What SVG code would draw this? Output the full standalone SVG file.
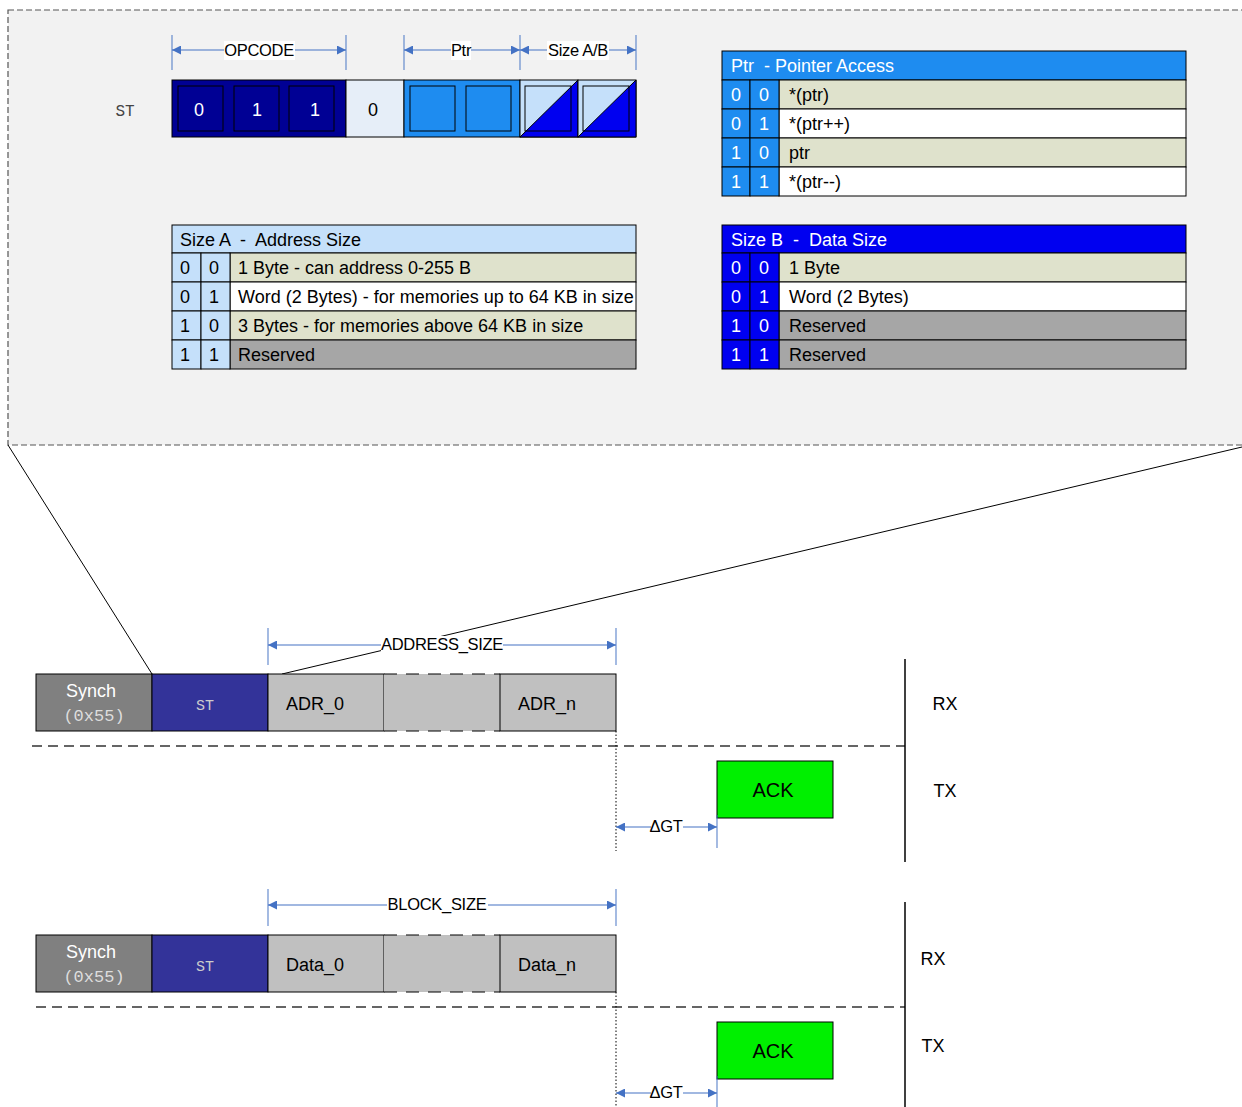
<svg xmlns="http://www.w3.org/2000/svg" width="1242" height="1107" viewBox="0 0 1242 1107">
<defs>
<marker id="arr" viewBox="0 0 10 10" refX="10" refY="5" markerWidth="9" markerHeight="9" markerUnits="userSpaceOnUse" orient="auto-start-reverse">
<path d="M0,0 L10,5 L0,10 z" fill="#4472c4"/>
</marker>
<style>
text{font-family:"Liberation Sans",Arial,sans-serif;}
.t{font-size:18px;fill:#000;}
.tw{font-size:18px;fill:#fff;}
.c{text-anchor:middle;}
.mono{font-family:"Liberation Mono","Courier New",monospace;}
.dim{stroke:#4472c4;stroke-width:1.2;fill:none;}
.dl{font-size:16.5px;text-anchor:middle;fill:#000;letter-spacing:-0.3px;}
.cell{stroke:#000;stroke-width:1;}
.pre{white-space:pre;}
</style>
</defs>

<!-- zoom panel -->
<g id="panel">
<rect x="8" y="10" width="1250" height="435" fill="#f2f2f2" stroke="#555" stroke-width="1.2" stroke-dasharray="6,3"/>
</g>

<!-- zoom lines -->
<g id="connectors" stroke="#000" stroke-width="1" fill="none">
<line x1="8" y1="445" x2="152" y2="674"/>
<line x1="1242" y1="447" x2="282" y2="674"/>
</g>

<!-- register ST -->
<g id="register">
<text x="125" y="116" class="mono" font-size="16" fill="#444" text-anchor="middle">ST</text>
<rect x="172" y="80" width="174" height="57" fill="#000094" class="cell"/>
<rect x="178" y="86" width="45" height="45" fill="#000094" class="cell"/>
<rect x="234" y="86" width="45" height="45" fill="#000094" class="cell"/>
<rect x="289" y="86" width="45" height="45" fill="#000094" class="cell"/>
<text x="199" y="116" class="tw c">0</text>
<text x="257" y="116" class="tw c">1</text>
<text x="315" y="116" class="tw c">1</text>
<rect x="346" y="80" width="58" height="57" fill="#e6eef8" class="cell"/>
<text x="373" y="116" class="t c">0</text>
<rect x="404" y="80" width="116" height="57" fill="#1e8cf0" class="cell"/>
<rect x="410" y="86" width="45" height="45" fill="#1e8cf0" class="cell"/>
<rect x="466" y="86" width="45" height="45" fill="#1e8cf0" class="cell"/>
<rect x="520" y="80" width="58" height="57" fill="#c5e0fa" class="cell"/>
<polygon points="578,80 578,137 520,137" fill="#0000f0" stroke="#000" stroke-width="1"/>
<rect x="525" y="86" width="46" height="45" fill="none" class="cell"/>
<rect x="578" y="80" width="58" height="57" fill="#c5e0fa" class="cell"/>
<polygon points="636,80 636,137 578,137" fill="#0000f0" stroke="#000" stroke-width="1"/>
<rect x="583" y="86" width="46" height="45" fill="none" class="cell"/>
</g>

<!-- register dimensions -->
<g id="reg-dims">
<g stroke="#4472c4" stroke-width="1.2" opacity="0.8">
<line x1="172" y1="35" x2="172" y2="70"/>
<line x1="346" y1="35" x2="346" y2="70"/>
<line x1="404" y1="35" x2="404" y2="70"/>
<line x1="520" y1="35" x2="520" y2="70"/>
<line x1="636" y1="35" x2="636" y2="70"/>
</g>
<line x1="172" y1="50" x2="346" y2="50" class="dim" marker-start="url(#arr)" marker-end="url(#arr)"/>
<line x1="404" y1="50" x2="520" y2="50" class="dim" marker-start="url(#arr)" marker-end="url(#arr)"/>
<line x1="520" y1="50" x2="636" y2="50" class="dim" marker-start="url(#arr)" marker-end="url(#arr)"/>
<rect x="224" y="41" width="71" height="19" fill="#fff"/>
<rect x="451" y="41" width="20" height="19" fill="#fff"/>
<rect x="547" y="41" width="62" height="19" fill="#fff"/>
<text x="259" y="56" class="dl">OPCODE</text>
<text x="461" y="56" class="dl">Ptr</text>
<text x="578" y="56" class="dl">Size A/B</text>
</g>

<!-- Ptr table -->
<g id="ptr-table">
<rect x="722" y="51" width="464" height="29" fill="#1e8cf0" class="cell"/>
<text x="731" y="72" class="tw pre">Ptr  - Pointer Access</text>
<rect x="779" y="80" width="407" height="29" fill="#dfe2cc" class="cell"/>
<rect x="779" y="109" width="407" height="29" fill="#fff" class="cell"/>
<rect x="779" y="138" width="407" height="29" fill="#dfe2cc" class="cell"/>
<rect x="779" y="167" width="407" height="29" fill="#fff" class="cell"/>
<g fill="#1e8cf0" class="cell">
<rect x="722" y="80" width="28" height="29"/><rect x="750" y="80" width="29" height="29"/>
<rect x="722" y="109" width="28" height="29"/><rect x="750" y="109" width="29" height="29"/>
<rect x="722" y="138" width="28" height="29"/><rect x="750" y="138" width="29" height="29"/>
<rect x="722" y="167" width="28" height="29"/><rect x="750" y="167" width="29" height="29"/>
</g>
<text x="736" y="101" class="tw c">0</text><text x="764" y="101" class="tw c">0</text>
<text x="736" y="130" class="tw c">0</text><text x="764" y="130" class="tw c">1</text>
<text x="736" y="159" class="tw c">1</text><text x="764" y="159" class="tw c">0</text>
<text x="736" y="188" class="tw c">1</text><text x="764" y="188" class="tw c">1</text>
<text x="789" y="101" class="t">*(ptr)</text>
<text x="789" y="130" class="t">*(ptr++)</text>
<text x="789" y="159" class="t">ptr</text>
<text x="789" y="188" class="t">*(ptr--)</text>
</g>

<!-- Size A table -->
<g id="sizea-table">
<rect x="172" y="225" width="464" height="28" fill="#c5e0fa" class="cell"/>
<text x="180" y="246" class="t pre">Size A  -  Address Size</text>
<rect x="230" y="253" width="406" height="29" fill="#dfe2cc" class="cell"/>
<rect x="230" y="282" width="406" height="29" fill="#fff" class="cell"/>
<rect x="230" y="311" width="406" height="29" fill="#dfe2cc" class="cell"/>
<rect x="230" y="340" width="406" height="29" fill="#a6a6a6" class="cell"/>
<g fill="#c5e0fa" class="cell">
<rect x="172" y="253" width="29" height="29"/><rect x="201" y="253" width="29" height="29"/>
<rect x="172" y="282" width="29" height="29"/><rect x="201" y="282" width="29" height="29"/>
<rect x="172" y="311" width="29" height="29"/><rect x="201" y="311" width="29" height="29"/>
<rect x="172" y="340" width="29" height="29"/><rect x="201" y="340" width="29" height="29"/>
</g>
<text x="185" y="274" class="t c">0</text><text x="214" y="274" class="t c">0</text>
<text x="185" y="303" class="t c">0</text><text x="214" y="303" class="t c">1</text>
<text x="185" y="332" class="t c">1</text><text x="214" y="332" class="t c">0</text>
<text x="185" y="361" class="t c">1</text><text x="214" y="361" class="t c">1</text>
<text x="238" y="274" class="t">1 Byte - can address 0-255 B</text>
<text x="238" y="303" class="t">Word (2 Bytes) - for memories up to 64 KB in size</text>
<text x="238" y="332" class="t">3 Bytes - for memories above 64 KB in size</text>
<text x="238" y="361" class="t">Reserved</text>
</g>

<!-- Size B table -->
<g id="sizeb-table">
<rect x="722" y="225" width="464" height="28" fill="#0000f0" class="cell"/>
<text x="731" y="246" class="tw pre">Size B  -  Data Size</text>
<rect x="779" y="253" width="407" height="29" fill="#dfe2cc" class="cell"/>
<rect x="779" y="282" width="407" height="29" fill="#fff" class="cell"/>
<rect x="779" y="311" width="407" height="29" fill="#a6a6a6" class="cell"/>
<rect x="779" y="340" width="407" height="29" fill="#a6a6a6" class="cell"/>
<g fill="#0000f0" class="cell">
<rect x="722" y="253" width="28" height="29"/><rect x="750" y="253" width="29" height="29"/>
<rect x="722" y="282" width="28" height="29"/><rect x="750" y="282" width="29" height="29"/>
<rect x="722" y="311" width="28" height="29"/><rect x="750" y="311" width="29" height="29"/>
<rect x="722" y="340" width="28" height="29"/><rect x="750" y="340" width="29" height="29"/>
</g>
<text x="736" y="274" class="tw c">0</text><text x="764" y="274" class="tw c">0</text>
<text x="736" y="303" class="tw c">0</text><text x="764" y="303" class="tw c">1</text>
<text x="736" y="332" class="tw c">1</text><text x="764" y="332" class="tw c">0</text>
<text x="736" y="361" class="tw c">1</text><text x="764" y="361" class="tw c">1</text>
<text x="789" y="274" class="t">1 Byte</text>
<text x="789" y="303" class="t">Word (2 Bytes)</text>
<text x="789" y="332" class="t">Reserved</text>
<text x="789" y="361" class="t">Reserved</text>
</g>

<!-- Frame 1: address -->
<g id="frame1">
<rect x="36" y="674" width="116" height="57" fill="#808080" class="cell"/>
<text x="91" y="697" font-size="18" fill="#fff" text-anchor="middle">Synch</text>
<text x="94" y="721" class="mono" font-size="17" fill="#ddd" text-anchor="middle">(0x55)</text>
<rect x="152" y="674" width="116" height="57" fill="#333399" class="cell"/>
<text x="205" y="710" class="mono" font-size="15" fill="#ccc" text-anchor="middle">ST</text>
<rect x="268" y="674" width="116" height="57" fill="#c0c0c0" class="cell"/>
<text x="315" y="710" class="t c">ADR_0</text>
<rect x="384" y="674" width="116" height="57" fill="#c0c0c0"/>
<line x1="384" y1="674" x2="500" y2="674" stroke="#000" stroke-width="1.2" stroke-dasharray="13,9"/>
<line x1="384" y1="731" x2="500" y2="731" stroke="#000" stroke-width="1.2" stroke-dasharray="13,9"/>
<rect x="500" y="674" width="116" height="57" fill="#c0c0c0" class="cell"/>
<text x="547" y="710" class="t c">ADR_n</text>
</g>
<g id="frame1-dims">
<g stroke="#4472c4" stroke-width="1.2" opacity="0.8">
<line x1="268" y1="628" x2="268" y2="665"/>
<line x1="616" y1="628" x2="616" y2="665"/>
</g>
<line x1="268" y1="645" x2="616" y2="645" class="dim" marker-start="url(#arr)" marker-end="url(#arr)"/>
<rect x="381" y="636" width="122" height="19" fill="#fff"/>
<text x="442" y="650" class="dl">ADDRESS_SIZE</text>
</g>
<g id="timeline1">
<line x1="32" y1="746" x2="905" y2="746" stroke="#333" stroke-width="1.5" stroke-dasharray="10,6"/>
<line x1="905" y1="659" x2="905" y2="862" stroke="#000" stroke-width="1.5"/>
<line x1="616" y1="731" x2="616" y2="851" stroke="#000" stroke-width="1" stroke-dasharray="1.5,2"/>
<text x="945" y="710" class="t c">RX</text>
<text x="945" y="797" class="t c">TX</text>
</g>
<g id="ack1">
<rect x="717" y="761" width="116" height="57" fill="#00f000" class="cell"/>
<text x="773" y="797" font-size="20" text-anchor="middle">ACK</text>
</g>
<g id="gt1">
<line x1="717" y1="815" x2="717" y2="848" stroke="#4472c4" stroke-width="1.2" opacity="0.8"/>
<line x1="616" y1="827" x2="717" y2="827" class="dim" marker-start="url(#arr)" marker-end="url(#arr)"/>
<rect x="651" y="818" width="32" height="18" fill="#fff"/>
<text x="666" y="832" class="dl">ΔGT</text>
</g>

<!-- Frame 2: data -->
<g id="frame2">
<rect x="36" y="935" width="116" height="57" fill="#808080" class="cell"/>
<text x="91" y="958" font-size="18" fill="#fff" text-anchor="middle">Synch</text>
<text x="94" y="982" class="mono" font-size="17" fill="#ddd" text-anchor="middle">(0x55)</text>
<rect x="152" y="935" width="116" height="57" fill="#333399" class="cell"/>
<text x="205" y="971" class="mono" font-size="15" fill="#ccc" text-anchor="middle">ST</text>
<rect x="268" y="935" width="116" height="57" fill="#c0c0c0" class="cell"/>
<text x="315" y="971" class="t c">Data_0</text>
<rect x="384" y="935" width="116" height="57" fill="#c0c0c0"/>
<line x1="384" y1="935" x2="500" y2="935" stroke="#000" stroke-width="1.2" stroke-dasharray="13,9"/>
<line x1="384" y1="992" x2="500" y2="992" stroke="#000" stroke-width="1.2" stroke-dasharray="13,9"/>
<rect x="500" y="935" width="116" height="57" fill="#c0c0c0" class="cell"/>
<text x="547" y="971" class="t c">Data_n</text>
</g>
<g id="frame2-dims">
<g stroke="#4472c4" stroke-width="1.2" opacity="0.8">
<line x1="268" y1="889" x2="268" y2="926"/>
<line x1="616" y1="889" x2="616" y2="926"/>
</g>
<line x1="268" y1="905" x2="616" y2="905" class="dim" marker-start="url(#arr)" marker-end="url(#arr)"/>
<rect x="387" y="896" width="101" height="19" fill="#fff"/>
<text x="437" y="910" class="dl">BLOCK_SIZE</text>
</g>
<g id="timeline2">
<line x1="36" y1="1007" x2="905" y2="1007" stroke="#333" stroke-width="1.5" stroke-dasharray="10,6"/>
<line x1="905" y1="902" x2="905" y2="1107" stroke="#000" stroke-width="1.5"/>
<line x1="616" y1="992" x2="616" y2="1107" stroke="#000" stroke-width="1" stroke-dasharray="1.5,2"/>
<text x="933" y="965" class="t c">RX</text>
<text x="933" y="1052" class="t c">TX</text>
</g>
<g id="ack2">
<rect x="717" y="1022" width="116" height="57" fill="#00f000" class="cell"/>
<text x="773" y="1058" font-size="20" text-anchor="middle">ACK</text>
</g>
<g id="gt2">
<line x1="717" y1="1076" x2="717" y2="1107" stroke="#4472c4" stroke-width="1.2" opacity="0.8"/>
<line x1="616" y1="1093" x2="717" y2="1093" class="dim" marker-start="url(#arr)" marker-end="url(#arr)"/>
<rect x="651" y="1084" width="32" height="18" fill="#fff"/>
<text x="666" y="1098" class="dl">ΔGT</text>
</g>
</svg>
